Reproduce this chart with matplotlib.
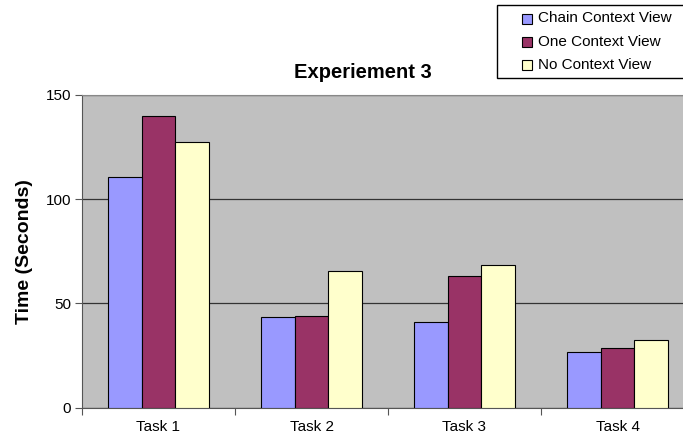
import numpy as np
import matplotlib.pyplot as plt
from matplotlib.patches import Rectangle

tasks = ['Task 1', 'Task 2', 'Task 3', 'Task 4']
series = ['Chain Context View', 'One Context View', 'No Context View']
chain = [110.8, 43.4, 41.0, 26.9]
one = [140.0, 43.8, 63.0, 28.8]
none_ctx = [127.3, 65.4, 68.4, 32.3]
colors = ['#9999FF', '#993366', '#FFFFCC']

W, H = 683, 438
fig = plt.figure(figsize=(W / 100, H / 100), dpi=100)
plt.rcParams['font.family'] = ['Liberation Sans', 'DejaVu Sans']

# plot area runs a little past the right edge of the canvas
left, right, top, bottom = 82, 694, 95, 407.7
ax = fig.add_axes([left / W, 1 - bottom / H, (right - left) / W, (bottom - top) / H])
ax.set_facecolor('#C0C0C0')

x = np.arange(len(tasks))
bw = 0.222
for i, vals in enumerate([chain, one, none_ctx]):
    ax.bar(x + (i - 1) * bw, vals, bw, color=colors[i], edgecolor='black',
           linewidth=0.8, zorder=3)

ax.set_xlim(-0.5, len(tasks) - 0.5)
ax.set_ylim(0, 150)
ax.set_yticks([0, 50, 100, 150])
ax.yaxis.grid(True, color='#333333', linewidth=0.9, zorder=1)
ax.set_axisbelow(True)

ax.set_xticks(np.arange(len(tasks) + 1) - 0.5)
ax.set_xticklabels([])
ax.set_xticks(x, minor=True)
ax.set_xticklabels(tasks, minor=True)
ax.tick_params(axis='x', which='minor', length=0, pad=9, labelsize=11)
ax.tick_params(axis='x', which='major', length=5, width=0.8, color='#555555')
ax.tick_params(axis='y', length=5, width=0.8, color='#555555', labelsize=11, pad=3)

ax.spines['right'].set_visible(False)
ax.spines['top'].set_color('#888888')
ax.spines['left'].set_color('#555555')
ax.spines['bottom'].set_color('#555555')

ax.set_ylabel('Time (Seconds)', fontsize=14, fontweight='bold', labelpad=9)
fig.text(363 / W, 1 - 72 / H, 'Experiement 3', ha='center', va='center',
         fontsize=14.5, fontweight='bold')

# legend box
fig.patches.append(Rectangle((497 / W, 1 - 78 / H), (W + 10 - 497) / W, 73 / H,
                             transform=fig.transFigure, facecolor='white',
                             edgecolor='black', linewidth=1.0, zorder=5))
for i, name in enumerate(series):
    yc = 1 - (18.5 + i * 23.3) / H
    fig.patches.append(Rectangle((521.5 / W, yc - 5 / H), 10 / W, 10 / H,
                                 transform=fig.transFigure, facecolor=colors[i],
                                 edgecolor='black', linewidth=0.8, zorder=6))
    fig.text(538 / W, yc, name, ha='left', va='center', fontsize=11, zorder=7)

fig.savefig('out.png', dpi=100)
